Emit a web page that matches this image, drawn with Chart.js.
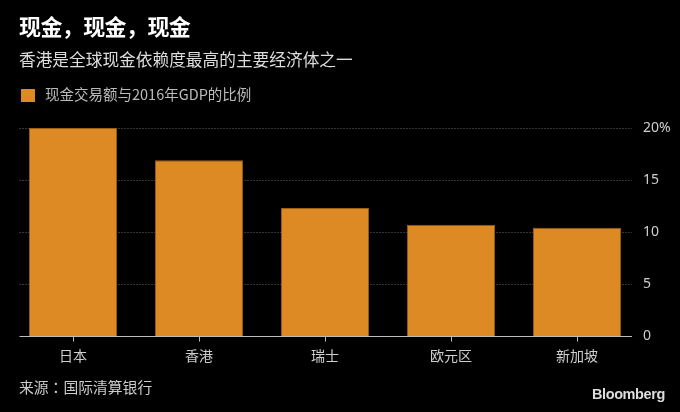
<!DOCTYPE html>
<html>
<head>
<meta charset="utf-8">
<script src="https://cdn.jsdelivr.net/npm/chart.js@4.4.0/dist/chart.umd.min.js"></script>
<style>
  html, body { margin: 0; padding: 0; background: #000; }
  #wrap { position: relative; width: 680px; height: 412px; background: #000; overflow: hidden;
          font-family: "Noto Sans CJK SC", "Noto Sans", sans-serif; }
  #chartBox { position: absolute; left: 0; top: 0; width: 680px; height: 412px; }
  .t { position: absolute; white-space: nowrap; }
  #title { left: 19px; top: 9px; font-size: 22px; font-weight: bold; color: #fff; letter-spacing: -0.6px; }
  #subtitle { left: 19px; top: 47px; font-size: 16.7px; color: #ddd; }
  #legend { left: 21px; top: 83px; font-size: 14.5px; color: #bbb; }
  #legend .sw { display: inline-block; width: 14px; height: 13px; background: #DD8A25; vertical-align: -2px; margin-right: 10px; }
  #source { left: 19px; top: 376px; font-size: 14.8px; color: #ccc; }
  #source .colon { font-family: "Noto Sans CJK TC", "Noto Sans CJK SC", sans-serif; }
  #brand { left: 592px; top: 386px; font-size: 14.5px; font-weight: bold; color: #ddd; font-family: "Liberation Sans", Arial, sans-serif; letter-spacing: -0.4px; }
</style>
</head>
<body>
<div id="wrap">
  <div id="chartBox"><canvas id="c"></canvas></div>
  <div class="t" id="title">现金，现金，现金</div>
  <div class="t" id="subtitle">香港是全球现金依赖度最高的主要经济体之一</div>
  <div class="t" id="legend"><span class="sw"></span>现金交易额与2016年GDP的比例</div>
  <div class="t" id="source">来源<span class="colon">：</span>国际清算银行</div>
  <div class="t" id="brand">Bloomberg</div>
</div>
<script>
const categories = ["日本", "香港", "瑞士", "欧元区", "新加坡"];
const cashShare = [20.0, 16.9, 12.3, 10.7, 10.4];
const yTicks = [0, 5, 10, 15, 20];
const seriesLabel = "现金交易额与2016年GDP的比例";

const gridPlugin = {
  id: 'customGrid',
  beforeDatasetsDraw(chart) {
    const ctx = chart.ctx;
    const y = chart.scales.y;
    const left = 19.5, right = 632;
    ctx.save();
    ctx.strokeStyle = '#6a6a6a';
    ctx.lineWidth = 1;
    ctx.setLineDash([1, 2]);
    yTicks.forEach(v => {
      if (v === 0) return;
      const py = Math.round(y.getPixelForValue(v)) + 0.5;
      ctx.beginPath(); ctx.moveTo(left, py); ctx.lineTo(right, py); ctx.stroke();
    });
    ctx.restore();
  },
  afterDatasetsDraw(chart) {
    const ctx = chart.ctx;
    const y = chart.scales.y;
    const x = chart.scales.x;
    const left = 19.5, right = 632;
    const py = Math.round(y.getPixelForValue(0)) + 0.5;
    ctx.save();
    ctx.strokeStyle = '#bdbdbd';
    ctx.lineWidth = 1;
    ctx.beginPath(); ctx.moveTo(left, py); ctx.lineTo(right, py); ctx.stroke();
    categories.forEach((c, i) => {
      const px = Math.round(x.getPixelForValue(i)) + 0.5;
      ctx.beginPath(); ctx.moveTo(px, py); ctx.lineTo(px, py + 5); ctx.stroke();
    });
    ctx.restore();
  }
};

new Chart(document.getElementById('c'), {
  type: 'bar',
  data: {
    labels: categories,
    datasets: [{
      label: seriesLabel,
      data: cashShare,
      backgroundColor: '#DD8A25',
      borderColor: '#9a5e18',
      borderWidth: 1,
      barPercentage: 0.7,
      categoryPercentage: 1.0
    }]
  },
  options: {
    responsive: true,
    maintainAspectRatio: false,
    animation: false,
    layout: { padding: { left: 10, right: 0, top: 128, bottom: 0 } },
    plugins: {
      legend: { display: false },
      tooltip: { enabled: false },
      title: { display: false }
    },
    scales: {
      x: {
        grid: { display: false, drawTicks: false },
        border: { display: false },
        ticks: {
          color: '#cfcfcf',
          font: { family: '"Noto Sans CJK SC", "Noto Sans", sans-serif', size: 14 },
          padding: 11,
          maxRotation: 0
        },
        afterFit(scale) { scale.height = 76; }
      },
      y: {
        position: 'right',
        min: 0, max: 20,
        grid: { display: false, drawTicks: false },
        border: { display: false },
        afterBuildTicks(scale) { scale.ticks = yTicks.map(v => ({ value: v })); },
        ticks: {
          color: '#cfcfcf',
          font: { family: '"Noto Sans", "Noto Sans CJK SC", sans-serif', size: 14 },
          padding: 3,
          callback: (v) => v === 20 ? '20%' : String(v)
        },
        afterFit(scale) { scale.width = 40; }
      }
    }
  },
  plugins: [gridPlugin]
});
</script>
</body>
</html>
